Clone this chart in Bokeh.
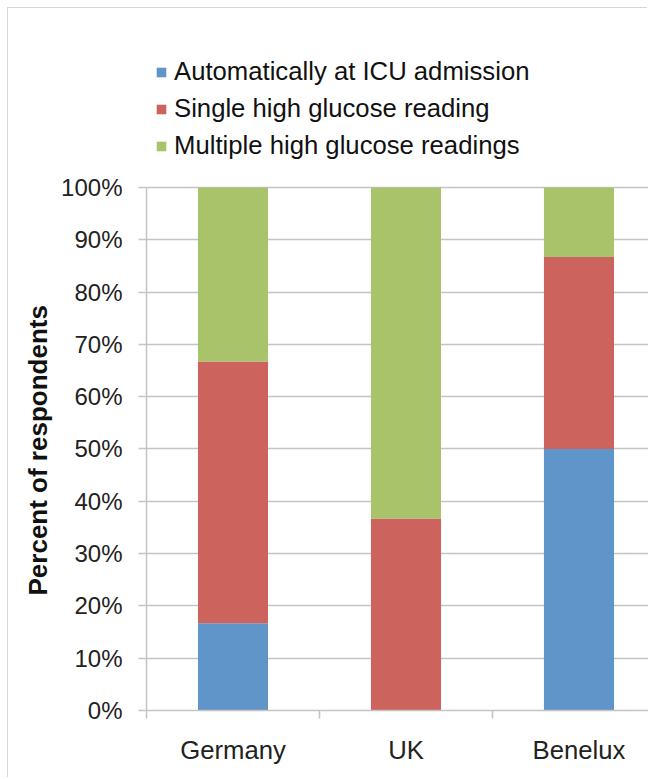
from bokeh.plotting import figure
from bokeh.models import (ColumnDataSource, Range1d, FixedTicker, PrintfTickFormatter,
                          Legend, LegendItem, Title)
from bokeh.embed import file_html
from bokeh.resources import INLINE

categories = ["Germany", "UK", "Benelux"]
automatic = [16.7, 0.0, 50.0]
single = [50.0, 36.7, 36.7]
multiple = [33.3, 63.3, 13.3]
series_names = ["Automatically at ICU admission", "Single high glucose reading",
                "Multiple high glucose readings"]
y_ticks = [0, 10, 20, 30, 40, 50, 60, 70, 80, 90, 100]
y_title = "Percent of respondents"

colors = ["#5f95c9", "#cc635c", "#a8c36a"]
FONT = "Liberation Sans"
GRID = "#c4c4c4"

x_pos = [i + 0.5 for i in range(len(categories))]
source = ColumnDataSource(dict(x=x_pos, automatic=automatic, single=single, multiple=multiple))

p = figure(width=640, height=770, output_backend="svg", toolbar_location=None,
           x_range=Range1d(0, 2.902), y_range=Range1d(0, 130),
           min_border_left=138, min_border_right=0, min_border_top=22, min_border_bottom=68)
p.margin = (8, 0, 0, 8)
p.styles = {"box-shadow": "-1px -1px 0 0 #d6d6d6"}
p.outline_line_color = None
p.background_fill_color = "white"
p.border_fill_color = "white"

rs = p.vbar_stack(["automatic", "single", "multiple"], x="x", width=0.405, source=source,
                  color=colors, line_color=None)

# Y axis
p.yaxis.bounds = (0, 100)
p.yaxis.ticker = FixedTicker(ticks=y_ticks)
p.yaxis.formatter = PrintfTickFormatter(format="%d%%")
p.yaxis.major_tick_in = 0
p.yaxis.major_tick_out = 8
p.yaxis.minor_tick_line_color = None
p.yaxis.axis_line_color = GRID
p.yaxis.axis_line_width = 1.5
p.yaxis.major_tick_line_color = GRID
p.yaxis.major_tick_line_width = 1.5
p.yaxis.major_label_text_font = FONT
p.yaxis.major_label_text_font_size = "24px"
p.yaxis.major_label_text_color = "#222222"
p.yaxis.major_label_standoff = 16

ytitle = Title(text=y_title, align="left", offset=115, standoff=12,
               text_font=FONT, text_font_style="bold", text_font_size="26px",
               text_color="#111111")
p.add_layout(ytitle, "left")

# X axis
p.xaxis.ticker = FixedTicker(ticks=x_pos, minor_ticks=[0, 1, 2, 3])
p.xaxis.major_label_overrides = {x: c for x, c in zip(x_pos, categories)}
p.xaxis.major_tick_line_color = None
p.xaxis.major_tick_in = 0
p.xaxis.major_tick_out = 0
p.xaxis.minor_tick_in = 0
p.xaxis.minor_tick_out = 8
p.xaxis.minor_tick_line_color = GRID
p.xaxis.minor_tick_line_width = 1.5
p.xaxis.axis_line_color = GRID
p.xaxis.axis_line_width = 1.5
p.xaxis.major_label_text_font = FONT
p.xaxis.major_label_text_font_size = "25.7px"
p.xaxis.major_label_text_color = "#222222"
p.xaxis.major_label_standoff = 17

p.xgrid.grid_line_color = None
p.ygrid.ticker = FixedTicker(ticks=y_ticks)
p.ygrid.grid_line_color = GRID
p.ygrid.grid_line_width = 1.5

legend = Legend(items=[LegendItem(label=n, renderers=[r]) for n, r in zip(series_names, rs)],
                location=(9, 550), orientation="vertical")
legend.border_line_color = None
legend.background_fill_alpha = 0
legend.padding = 0
legend.margin = 0
legend.spacing = 8
legend.label_height = 29
legend.glyph_width = 12
legend.glyph_height = 12
legend.label_standoff = 7
legend.label_text_font = FONT
legend.label_text_font_size = "25.7px"
legend.label_text_color = "#111111"
p.add_layout(legend, "center")

open("out.html", "w").write(file_html(p, INLINE))
